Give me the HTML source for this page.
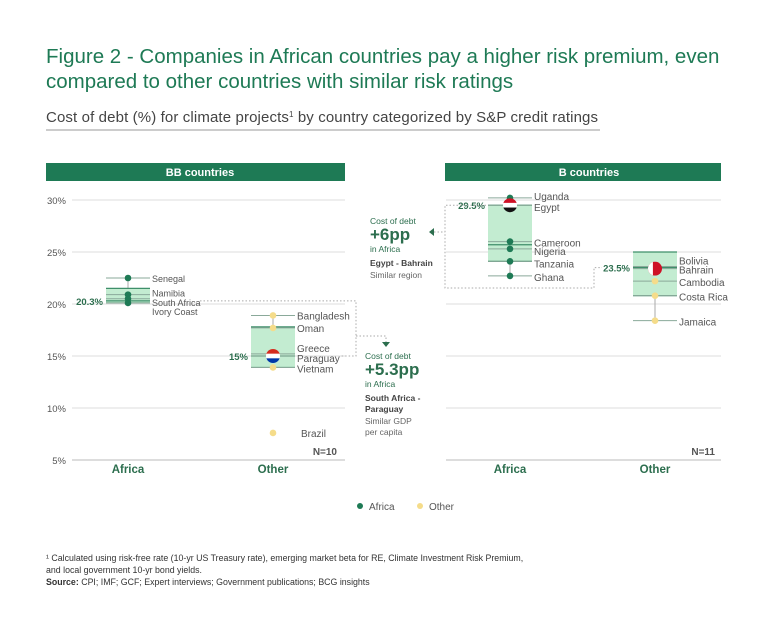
<!DOCTYPE html>
<html><head><meta charset="utf-8"><style>
body{margin:0;background:#fff;}
svg{display:block;font-family:"Liberation Sans",sans-serif;}
</style></head><body>
<svg id="c" width="768" height="634" viewBox="0 0 768 634">
<text x="46" y="63" font-size="20.5" fill="#1e7a55">Figure 2 - Companies in African countries pay a higher risk premium, even</text>
<text x="46" y="88" font-size="20.5" fill="#1e7a55">compared to other countries with similar risk ratings</text>
<text x="46" y="122" font-size="15" fill="#444" textLength="552">Cost of debt (%) for climate projects<tspan font-size="8" dy="-5">1</tspan><tspan dy="5"> by country categorized by S&amp;P credit ratings</tspan></text>
<line x1="46" y1="130" x2="600" y2="130" stroke="#bbb" stroke-width="1.5"/>
<rect x="46" y="163" width="299" height="18" fill="#1e7a55"/>
<text x="200" y="176" font-size="11" font-weight="bold" fill="#fff" text-anchor="middle">BB countries</text>
<rect x="445" y="163" width="276" height="18" fill="#1e7a55"/>
<text x="589" y="176" font-size="11" font-weight="bold" fill="#fff" text-anchor="middle">B countries</text>
<g id="grid"></g>
<g id="marks"></g>
<g id="ann"></g>
<text x="337" y="455" font-size="10" font-weight="bold" fill="#555" text-anchor="end">N=10</text>
<text x="715" y="455" font-size="10" font-weight="bold" fill="#555" text-anchor="end">N=11</text>
<g>
<circle cx="360" cy="506" r="3" fill="#1e7a55"/>
<text x="369" y="510" font-size="10" fill="#555">Africa</text>
<circle cx="420" cy="506" r="3" fill="#f5dc8a"/>
<text x="429" y="510" font-size="10" fill="#555">Other</text>
</g>
<text x="46" y="561" font-size="8.8" fill="#333">¹ Calculated using risk-free rate (10-yr US Treasury rate), emerging market beta for RE, Climate Investment Risk Premium,</text>
<text x="46" y="573" font-size="8.8" fill="#333">and local government 10-yr bond yields.</text>
<text x="46" y="585" font-size="8.8" fill="#333"><tspan font-weight="bold">Source:</tspan> CPI; IMF; GCF; Expert interviews; Government publications; BCG insights</text>
</svg>
<script>
const ticks=[30,25,20,15,10,5];
const categories=["Africa","Other"];
const bbAfricaNames=["Senegal","Namibia","South Africa","Ivory Coast"];
const bbAfricaVals=[22.5,20.9,20.5,20.1];
const bbAfricaBox=[20.1,20.3,21.5];
const bbOtherNames=["Bangladesh","Oman","Greece","Paraguay","Vietnam","Brazil"];
const bbOtherVals=[18.9,17.7,15.2,15.0,13.9,7.6];
const bbOtherBox=[13.9,15.0,17.8];
const bAfricaNames=["Uganda","Egypt","Cameroon","Nigeria","Tanzania","Ghana"];
const bAfricaVals=[30.2,29.5,26.0,25.3,24.1,22.7];
const bAfricaBox=[24.1,25.7,29.5];
const bOtherNames=["Bolivia","Bahrain","Cambodia","Costa Rica","Jamaica"];
const bOtherVals=[23.6,23.4,22.2,20.8,18.4];
const bOtherBox=[20.8,23.5,25.0];

const NS="http://www.w3.org/2000/svg";
const Y=v=>200+(30-v)*10.4;
const HW=22;
function mk(parent,tag,attrs,text){const e=document.createElementNS(NS,tag);for(const k in attrs)e.setAttribute(k,attrs[k]);if(text!==undefined)e.textContent=text;parent.appendChild(e);return e;}
const grid=document.getElementById('grid'),marks=document.getElementById('marks'),ann=document.getElementById('ann');
const panels=[{x0:72,x1:345,cx:[128,273],tickLbl:true,pre:'bb'},{x0:446,x1:721,cx:[510,655],tickLbl:false,pre:'b'}];
panels.forEach(p=>{
 ticks.forEach(t=>{
  const l=mk(grid,'line',{x1:p.x0,x2:p.x1,y1:Y(t),y2:Y(t),stroke:t===5?'#bbb':'#ddd','stroke-width':1});
  
  
  if(p.tickLbl){const tx=mk(grid,'text',{x:66,y:Y(t)+4,'font-size':9.5,fill:'#555','text-anchor':'end'},t+'%');
   
   }
 });
 categories.forEach((c,i)=>{const tx=mk(grid,'text',{x:p.cx[i],y:473,'font-size':11.5,'font-weight':'bold',fill:'#2c6e4e','text-anchor':'middle'},c);
  
  });
});
const groups=[
 {names:bbAfricaNames,vals:bbAfricaVals,box:bbAfricaBox,cx:128,col:'#1e7a55',nud:[0,-2,3,8],med:'20.3%',id:'bb-africa',fs:9},
 {names:bbOtherNames,vals:bbOtherVals,box:bbOtherBox,cx:273,col:'#f5dc8a',nud:[0,0,-6,2,1,0],med:'15%',id:'bb-other',flag:'Paraguay',noTick:['Brazil'],fs:10},
 {names:bAfricaNames,vals:bAfricaVals,box:bAfricaBox,cx:510,col:'#1e7a55',nud:[-2,2,1,2,2,1],med:'29.5%',id:'b-africa',flag:'Egypt',medAt:2,fs:10},
 {names:bOtherNames,vals:bOtherVals,box:bOtherBox,cx:655,col:'#f5dc8a',nud:[-6,1,1,1,1],med:'23.5%',id:'b-other',flag:'Bahrain',fs:10}
];
groups.forEach(g=>{
 const lx=g.cx+HW+2;
 const mn=Math.min(...g.vals.filter((v,i)=>!(g.noTick||[]).includes(g.names[i]))),mx=Math.max(...g.vals);
 const w=mk(marks,'line',{x1:g.cx,x2:g.cx,y1:Y(mx),y2:Y(mn),stroke:'#aaa','stroke-width':1});
 
 
 const b=mk(marks,'rect',{x:g.cx-HW,y:Y(g.box[2]),width:2*HW,height:Y(g.box[0])-Y(g.box[2]),fill:'#c3ecd1'});
 
 
 [g.box[0],g.box[2]].forEach((v,k)=>{const l=mk(marks,'line',{x1:g.cx-HW,x2:g.cx+HW,y1:Y(v),y2:Y(v),stroke:'#3f8f6a','stroke-width':1.2});
  
  });
 const mv=g.medAt!==undefined?g.box[g.medAt]:g.box[1];
 const ml=mk(marks,'line',{x1:g.cx-HW,x2:g.cx+HW,y1:Y(g.box[1]),y2:Y(g.box[1]),stroke:'#3f8f6a','stroke-width':1.2});
 
 
 const mt=mk(marks,'text',{x:g.cx-HW-3,y:Y(mv)+4,'font-size':9.5,'font-weight':'bold',fill:'#2c6e4e','text-anchor':'end'},g.med);
 
 
 g.vals.forEach((v,i)=>{
  const nm=g.names[i];
  if(!(g.noTick||[]).includes(nm)){const t=mk(marks,'line',{x1:g.cx-HW,x2:lx-2,y1:Y(v),y2:Y(v),stroke:'#8aa99a','stroke-width':1});
   
   }
  let dot;
  if(nm===g.flag){
   const gg=mk(marks,'g',{});
   const cy=Y(v),cx=g.cx,r=7;
   const cols=nm==='Egypt'?['#ce1126','#fff','#111']:nm==='Paraguay'?['#d52b1e','#fff','#0038a8']:null;
   if(cols){cols.forEach((c,k)=>mk(gg,'rect',{x:cx-r,y:cy-r+k*r*2/3,width:2*r,height:r*2/3+0.3,fill:c}));}
   else{mk(gg,'rect',{x:cx-r,y:cy-r,width:2*r,height:2*r,fill:'#ce1126'});mk(gg,'rect',{x:cx-r,y:cy-r,width:r*0.7,height:2*r,fill:'#fff'});}
   const cp=mk(gg,'clipPath',{id:'cp'+nm});mk(cp,'circle',{cx:cx,cy:cy,r:r});
   gg.setAttribute('clip-path','url(#cp'+nm+')');
   dot=gg;
  } else dot=mk(marks,'circle',{cx:g.cx,cy:Y(v),r:3.3,fill:g.col});
  
  
  const tx=mk(marks,'text',{x:nm==='Brazil'?lx+4:lx,y:Y(v)+4+g.nud[i],'font-size':g.fs,fill:'#555'},nm);
  
  
 });
});
const c1=mk(ann,'polyline',{points:`200,${Y(20.3)} 356,${Y(20.3)} 356,${Y(15)} 340,${Y(15)}`,fill:'none',stroke:'#aaa','stroke-dasharray':'1.5,2'});


const c1b=mk(ann,'polyline',{points:`356,336 386,336 386,342`,fill:'none',stroke:'#aaa','stroke-dasharray':'1.5,2'});


const a1=mk(ann,'polygon',{points:'382,342 390,342 386,347',fill:'#2c6e4e'});


const c2=mk(ann,'polyline',{points:`486,${Y(29.5)} 445,${Y(29.5)} 445,288 594,288 594,${Y(23.5)} 602,${Y(23.5)}`,fill:'none',stroke:'#aaa','stroke-dasharray':'1.5,2'});


const c2b=mk(ann,'line',{x1:434,x2:445,y1:232,y2:232,stroke:'#aaa','stroke-dasharray':'1.5,2'});


const a2=mk(ann,'polygon',{points:'434,228 434,236 429,232',fill:'#2c6e4e'});


const blocks=[
 {x:370,y:224,id:'b',lines:[['Cost of debt',8.5,'normal','#2c6e4e'],['+6pp',17,'bold','#2c6e4e',16],['in Africa',8.5,'normal','#2c6e4e',12],['Egypt - Bahrain',8.5,'bold','#444',14],['Similar region',8.5,'normal','#666',12]]},
 {x:365,y:359,id:'bb',lines:[['Cost of debt',8.5,'normal','#2c6e4e'],['+5.3pp',17,'bold','#2c6e4e',16],['in Africa',8.5,'normal','#2c6e4e',12],['South Africa -',8.5,'bold','#444',14],['Paraguay',8.5,'bold','#444',11],['Similar GDP',8.5,'normal','#666',12],['per capita',8.5,'normal','#666',11]]}
];
blocks.forEach(b=>{let y=b.y;b.lines.forEach((l,i)=>{if(i)y+=l[4];const t=mk(ann,'text',{x:b.x,y:y,'font-size':l[1],'font-weight':l[2],fill:l[3]},l[0]);
 
 });});
</script>
</body></html>
